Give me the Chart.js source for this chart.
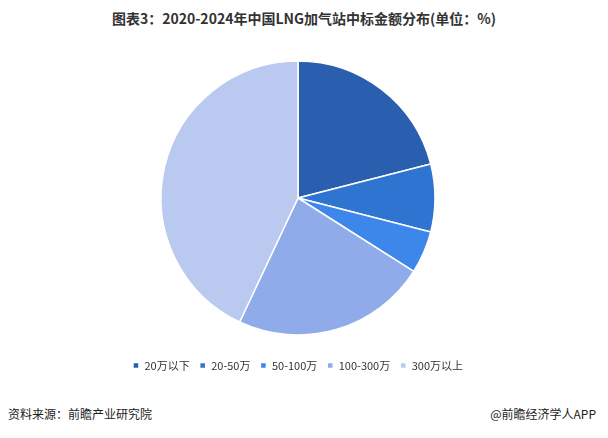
<!DOCTYPE html>
<html><head><meta charset="utf-8">
<script src="https://cdn.jsdelivr.net/npm/chart.js@4/dist/chart.umd.min.js"></script>
<style>
body{margin:0;width:608px;height:438px;background:#fff;font-family:"Noto Sans CJK SC",sans-serif;position:relative;overflow:hidden}
#t{position:absolute;top:8px;left:0;width:608px;text-align:center;font-weight:bold;font-size:14px;color:#333}
#w{position:absolute;top:46px;left:-6px;width:608px;height:335px}
#l{position:absolute;left:8px;top:405px;font-size:12px;color:#222}
#r{position:absolute;right:12px;top:405px;font-size:12px;color:#222}
</style></head><body>
<div id="t">图表3：2020-2024年中国LNG加气站中标金额分布(单位：%)</div>
<div id="w"><canvas id="c"></canvas></div>
<div id="l">资料来源：前瞻产业研究院</div>
<div id="r">@前瞻经济学人APP</div>
<script>
const categories=["20万以下","20-50万","50-100万","100-300万","300万以上"];
const values=[21,8,5,23,43];
const colors=["#2a5fb0","#2f74d0","#3d86ea","#8fabea","#b9c9f0"];
new Chart(document.getElementById('c'),{type:'pie',
data:{labels:categories,datasets:[{data:values,backgroundColor:colors,borderColor:'#fff',borderWidth:1.5}]},
options:{responsive:true,maintainAspectRatio:false,animation:false,radius:137,
plugins:{tooltip:{enabled:false},legend:{position:'bottom',labels:{boxWidth:6,boxHeight:6,font:{size:11,family:"Noto Sans CJK SC"},color:'#333',padding:10}}}}});
</script></body></html>
